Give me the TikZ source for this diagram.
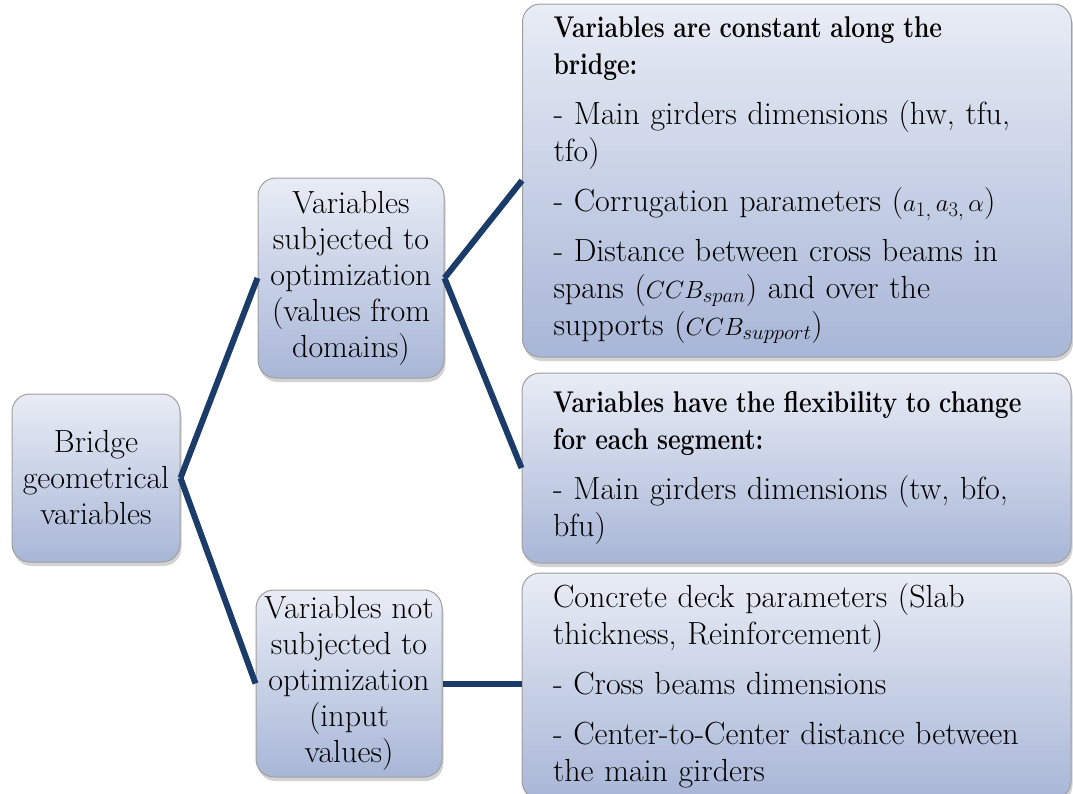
\documentclass[tikz,border=0pt]{standalone}
\usepackage{fontspec}
\usepackage{amsmath}
\usetikzlibrary{shadows,positioning}
\definecolor{boxtop}{RGB}{232,236,245}
\definecolor{boxbot}{RGB}{168,182,215}
\definecolor{linkblue}{RGB}{27,59,104}
\newcommand{\headline}[1]{\scalebox{0.82}[1]{\fontsize{30}{37}\selectfont\bfseries #1}}
\begin{document}
\begin{tikzpicture}[x=1pt,y=-1pt,line width=1pt,
  box/.style={draw=gray!75,rounded corners=18pt,top color=boxtop,bottom color=boxbot,
    drop shadow={opacity=.35,shadow xshift=1.5pt,shadow yshift=-4pt},
    font=\fontsize{32}{36}\selectfont,align=center,inner sep=0pt},
  wide/.style={box,font=\fontsize{32}{37}\selectfont,align=left,inner xsep=31pt,text width=487pt,minimum width=549pt},
  link/.style={draw=linkblue,line width=6pt}]

        \useasboundingbox (0,0) rectangle (1073,793);

        \node[box,minimum width=168pt,minimum height=168pt] (geom) at (96,478)
          {Bridge\\geometrical\\variables};
        \node[box,minimum width=186pt,minimum height=200pt] (opt) at (351,278)
          {Variables\\subjected to\\optimization\\(values from\\domains)};
        \node[box,minimum width=186pt,minimum height=187pt] (fix) at (349,683.5)
          {Variables not\\subjected to\\optimization\\(input\\values)};

        \node[wide,minimum height=353pt] (const) at (797,180.5)
          {\headline{Variables are constant along the}\\\headline{bridge:}\\[13pt]
           - Main girders dimensions (hw, tfu,\\tfo)\\[13pt]
           - Corrugation parameters ($a_{1,}\,a_{3,}\,\alpha$)\\[13pt]
           - Distance between cross beams in\\spans ($CCB_{span}$) and over the\\supports ($CCB_{support}$)};
        \node[wide,minimum height=190pt] (flex) at (796.5,468)
          {\headline{Variables have the flexibility to change}\\\headline{for each segment:}\\[13pt]
           - Main girders dimensions (tw, bfo,\\bfu)};
        \node[wide,minimum height=226pt] (input) at (796.5,686)
          {Concrete deck parameters (Slab\\thickness, Reinforcement)\\[13pt]
           - Cross beams dimensions\\[13pt]
           - Center-to-Center distance between\\the main girders};

        \draw[link] (geom.east) -- (opt.west);
        \draw[link] (geom.east) -- (fix.west);
        \draw[link] (opt.east) -- (const.west);
        \draw[link] (opt.east) -- (flex.west);
        \draw[link] (fix.east) -- (fix.east -| input.west);

\end{tikzpicture}
\end{document}
